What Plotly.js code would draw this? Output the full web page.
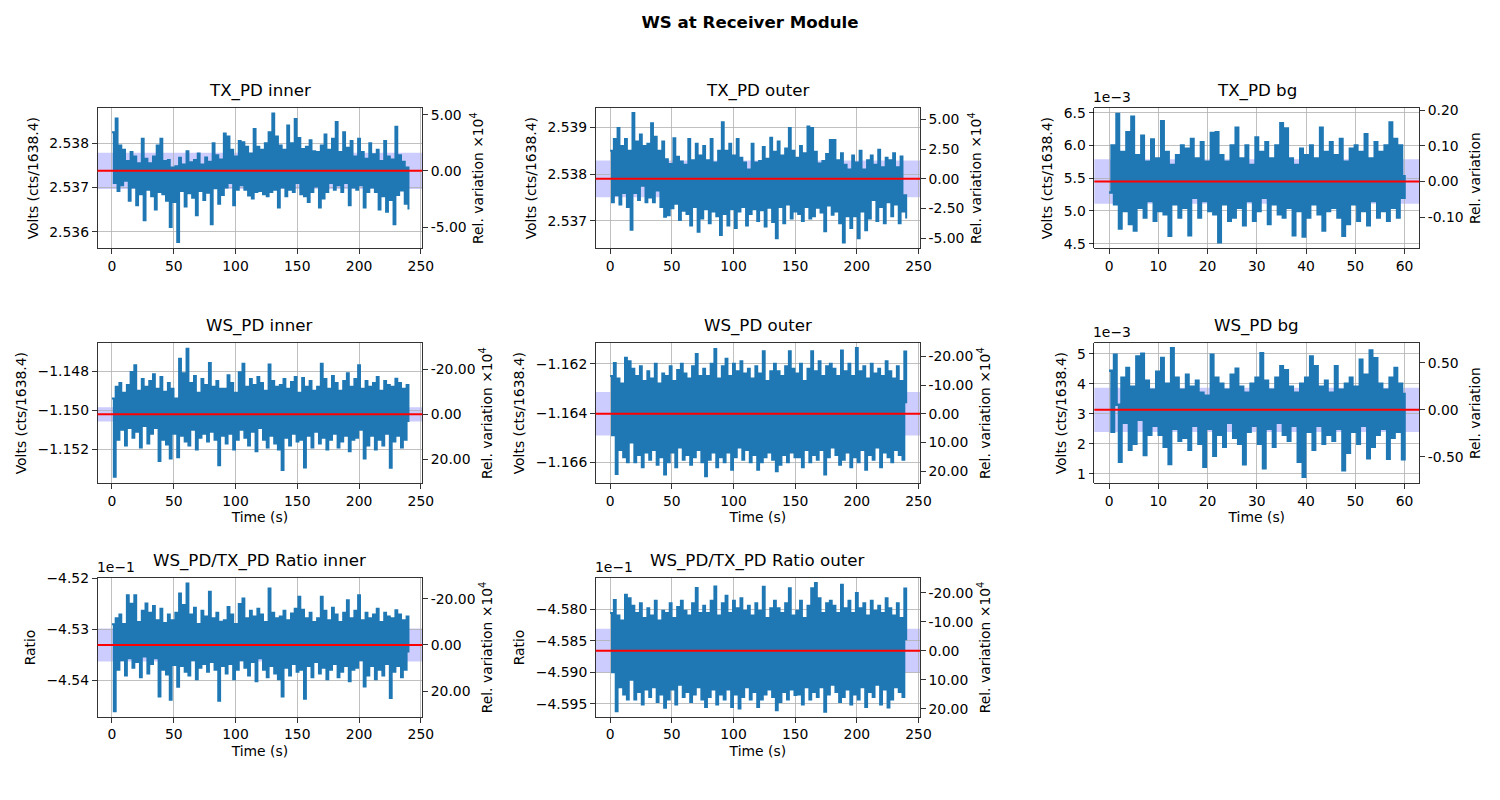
<!DOCTYPE html>
<html><head><meta charset="utf-8">
<script src="https://cdn.plot.ly/plotly-3.0.1.min.js"></script>
<style>html,body{margin:0;padding:0;background:#fff}#chart{width:1500px;height:800px}</style>
</head><body><div id="chart"></div>
<script>
// ---------------- data ----------------
const figTitle = "WS at Receiver Module";
const panelTitles = ["TX_PD inner", "TX_PD outer", "TX_PD bg", "WS_PD inner", "WS_PD outer", "WS_PD bg",
  "WS_PD/TX_PD Ratio inner", "WS_PD/TX_PD Ratio outer"];
const durations = [240, 240, 60, 240, 240, 60, 240, 240];   // seconds recorded
const means = [2.537376, 2.537900, 0.005449, -1.150204, -1.164027, 0.003128, -0.4533072, -0.4586587];
const stds = [0.0004095, 0.000393, 0.0003395, 0.000366, 0.0008815, 0.000741, 0.0003269, 0.00034655];

const txPdInner = [
2.53825,2.53710,2.53856,2.53692,2.53795,2.53705,2.53785,2.53715,2.53760,2.53670,
2.53780,2.53700,2.53770,2.53660,2.53755,2.53685,2.53810,2.53626,2.53765,2.53695,
2.53755,2.53680,2.53770,2.53650,2.53795,2.53690,2.53810,2.53685,2.53760,2.53670,
2.53762,2.53611,2.53745,2.53667,2.53748,2.53577,2.53767,2.53692,2.53752,2.53657,
2.53782,2.53687,2.53757,2.53677,2.53762,2.53637,2.53777,2.53692,2.53752,2.53672,
2.53768,2.53688,2.53758,2.53617,2.53800,2.53698,2.53773,2.53663,2.53763,2.53683,
2.53822,2.53700,2.53815,2.53710,2.53785,2.53660,2.53770,2.53695,2.53805,2.53705,
2.53802,2.53695,2.53792,2.53682,2.53777,2.53675,2.53832,2.53690,2.53792,2.53692,
2.53785,2.53685,2.53800,2.53680,2.53825,2.53690,2.53867,2.53695,2.53815,2.53655,
2.53795,2.53700,2.53785,2.53680,2.53840,2.53695,2.53800,2.53690,2.53855,2.53710,
2.53812,2.53685,2.53787,2.53680,2.53792,2.53667,2.53807,2.53690,2.53782,2.53702,
2.53780,2.53655,2.53795,2.53675,2.53820,2.53690,2.53785,2.53710,2.53810,2.53695,
2.53848,2.53705,2.53780,2.53690,2.53825,2.53710,2.53790,2.53660,2.53805,2.53700,
2.53770,2.53695,2.53810,2.53705,2.53780,2.53655,2.53765,2.53690,2.53800,2.53700,
2.53775,2.53690,2.53785,2.53650,2.53760,2.53680,2.53805,2.53645,2.53770,2.53672,
2.53763,2.53617,2.53837,2.53683,2.53773,2.53693,2.53758,2.53663,2.53745,2.53650];

const txPdOuter = [
2.53850,2.53740,2.53875,2.53755,2.53899,2.53735,2.53860,2.53760,2.53875,2.53730,
2.53850,2.53681,2.53931,2.53760,2.53870,2.53745,2.53885,2.53775,2.53860,2.53740,
2.53865,2.53750,2.53909,2.53740,2.53880,2.53765,2.53850,2.53730,2.53870,2.53709,
2.53832,2.53712,2.53822,2.53727,2.53877,2.53737,2.53837,2.53702,2.53827,2.53722,
2.53820,2.53715,2.53875,2.53690,2.53830,2.53730,2.53865,2.53677,2.53840,2.53705,
2.53860,2.53725,2.53830,2.53695,2.53875,2.53720,2.53825,2.53710,2.53850,2.53670,
2.53911,2.53715,2.53850,2.53690,2.53865,2.53725,2.53840,2.53685,2.53875,2.53720,
2.53835,2.53730,2.53825,2.53690,2.53810,2.53715,2.53865,2.53725,2.53825,2.53700,
2.53828,2.53723,2.53858,2.53688,2.53833,2.53728,2.53878,2.53698,2.53848,2.53663,
2.53870,2.53730,2.53840,2.53695,2.53855,2.53735,2.53899,2.53705,2.53850,2.53720,
2.53835,2.53715,2.53860,2.53700,2.53845,2.53730,2.53902,2.53705,2.53899,2.53710,
2.53848,2.53728,2.53823,2.53718,2.53828,2.53678,2.53843,2.53733,2.53873,2.53713,
2.53873,2.53720,2.53830,2.53695,2.53845,2.53654,2.53820,2.53710,2.53810,2.53685,
2.53840,2.53710,2.53825,2.53663,2.53850,2.53720,2.53810,2.53680,2.53830,2.53705,
2.53840,2.53745,2.53820,2.53700,2.53852,2.53730,2.53815,2.53695,2.53835,2.53740,
2.53830,2.53710,2.53845,2.53735,2.53815,2.53695,2.53838,2.53720,2.53755,2.53705];

const txPdBg = [
0.00528,0.00600,0.00510,0.00648,0.00473,0.00590,0.00500,0.00620,0.00480,0.00644,
0.00470,0.00585,0.00505,0.00615,0.00490,0.00575,0.00515,0.00609,0.00485,0.00580,
0.00500,0.00637,0.00495,0.00590,0.00462,0.00570,0.00510,0.00585,0.00490,0.00600,
0.00505,0.00595,0.00463,0.00610,0.00520,0.00580,0.00490,0.00605,0.00515,0.00575,
0.00500,0.00619,0.00495,0.00620,0.00452,0.00585,0.00510,0.00575,0.00485,0.00600,
0.00490,0.00627,0.00505,0.00580,0.00478,0.00600,0.00515,0.00570,0.00485,0.00612,
0.00500,0.00590,0.00520,0.00605,0.00480,0.00580,0.00510,0.00600,0.00495,0.00634,
0.00490,0.00626,0.00505,0.00580,0.00463,0.00570,0.00500,0.00595,0.00461,0.00585,
0.00490,0.00600,0.00510,0.00580,0.00495,0.00627,0.00470,0.00590,0.00500,0.00605,
0.00505,0.00585,0.00490,0.00610,0.00462,0.00575,0.00480,0.00595,0.00510,0.00600,
0.00485,0.00590,0.00500,0.00617,0.00478,0.00580,0.00515,0.00605,0.00490,0.00590,
0.00500,0.00600,0.00485,0.00635,0.00505,0.00610,0.00490,0.00600,0.00520,0.00555];

const wsPdInner = [
-1.14940,-1.15340,-1.14880,-1.15150,-1.14860,-1.15100,-1.14910,-1.15180,-1.14870,-1.15090,
-1.14804,-1.15140,-1.14770,-1.15110,-1.14900,-1.15190,-1.14840,-1.15080,-1.14880,-1.15170,
-1.14850,-1.15120,-1.14815,-1.15090,-1.14890,-1.15259,-1.14830,-1.15150,-1.14905,-1.15175,
-1.14860,-1.15247,-1.14890,-1.15120,-1.14940,-1.15240,-1.14736,-1.15130,-1.14810,-1.15160,
-1.14685,-1.15180,-1.14860,-1.15100,-1.14825,-1.15200,-1.14910,-1.15140,-1.14840,-1.15120,
-1.14870,-1.15160,-1.14758,-1.15110,-1.14880,-1.15150,-1.14850,-1.15281,-1.14890,-1.15130,
-1.14890,-1.15170,-1.14820,-1.15120,-1.14860,-1.15200,-1.14910,-1.15150,-1.14805,-1.15100,
-1.14762,-1.15140,-1.14880,-1.15180,-1.14840,-1.15110,-1.14870,-1.15210,-1.14830,-1.15090,
-1.14860,-1.15150,-1.14900,-1.15190,-1.14765,-1.15130,-1.14850,-1.15170,-1.14880,-1.15200,
-1.14870,-1.15306,-1.14840,-1.15140,-1.14890,-1.15180,-1.14855,-1.15120,-1.14830,-1.15160,
-1.14910,-1.15150,-1.14835,-1.15293,-1.14880,-1.15130,-1.14850,-1.15190,-1.14900,-1.15110,
-1.14880,-1.15170,-1.14762,-1.15140,-1.14840,-1.15200,-1.14890,-1.15150,-1.14825,-1.15120,
-1.14860,-1.15190,-1.14900,-1.15160,-1.14850,-1.15130,-1.14810,-1.15210,-1.14880,-1.15150,
-1.14840,-1.15140,-1.14770,-1.15100,-1.14890,-1.15247,-1.14850,-1.15180,-1.14880,-1.15130,
-1.14860,-1.15200,-1.14830,-1.15150,-1.14900,-1.15180,-1.14850,-1.15120,-1.14870,-1.15294,
-1.14880,-1.15160,-1.14838,-1.15130,-1.14860,-1.15190,-1.14890,-1.15150,-1.14870,-1.15060];

const wsPdOuter = [
-1.16250,-1.16490,-1.16197,-1.16648,-1.16260,-1.16550,-1.16280,-1.16580,-1.16176,-1.16600,
-1.16190,-1.16520,-1.16220,-1.16600,-1.16250,-1.16570,-1.16210,-1.16620,-1.16270,-1.16560,
-1.16230,-1.16590,-1.16260,-1.16550,-1.16200,-1.16610,-1.16280,-1.16580,-1.16240,-1.16650,
-1.16250,-1.16600,-1.16210,-1.16560,-1.16270,-1.16620,-1.16225,-1.16540,-1.16200,-1.16590,
-1.16240,-1.16570,-1.16260,-1.16610,-1.16210,-1.16580,-1.16160,-1.16550,-1.16250,-1.16600,
-1.16220,-1.16657,-1.16250,-1.16590,-1.16200,-1.16560,-1.16140,-1.16620,-1.16260,-1.16580,
-1.16210,-1.16600,-1.16180,-1.16560,-1.16250,-1.16630,-1.16200,-1.16580,-1.16230,-1.16540,
-1.16190,-1.16590,-1.16240,-1.16550,-1.16220,-1.16600,-1.16260,-1.16570,-1.16210,-1.16630,
-1.16240,-1.16600,-1.16149,-1.16580,-1.16270,-1.16560,-1.16230,-1.16590,-1.16200,-1.16636,
-1.16230,-1.16610,-1.16250,-1.16570,-1.16210,-1.16600,-1.16149,-1.16560,-1.16220,-1.16580,
-1.16240,-1.16580,-1.16200,-1.16620,-1.16270,-1.16550,-1.16220,-1.16600,-1.16149,-1.16570,
-1.16230,-1.16590,-1.16190,-1.16550,-1.16250,-1.16650,-1.16210,-1.16580,-1.16200,-1.16540,
-1.16220,-1.16570,-1.16250,-1.16610,-1.16146,-1.16590,-1.16230,-1.16560,-1.16200,-1.16620,
-1.16250,-1.16580,-1.16136,-1.16600,-1.16230,-1.16550,-1.16210,-1.16630,-1.16260,-1.16570,
-1.16200,-1.16590,-1.16240,-1.16540,-1.16220,-1.16620,-1.16250,-1.16560,-1.16190,-1.16580,
-1.16230,-1.16600,-1.16260,-1.16550,-1.16210,-1.16570,-1.16270,-1.16590,-1.16150,-1.16360];

const wsPdBg = [
0.00443,0.00240,0.00497,0.00330,0.00140,0.00420,0.00270,0.00452,0.00180,0.00390,
0.00200,0.00491,0.00280,0.00500,0.00162,0.00410,0.00230,0.00380,0.00260,0.00440,
0.00230,0.00486,0.00190,0.00400,0.00132,0.00518,0.00250,0.00420,0.00210,0.00380,
0.00220,0.00430,0.00180,0.00390,0.00260,0.00410,0.00200,0.00370,0.00123,0.00360,
0.00250,0.00497,0.00160,0.00420,0.00230,0.00400,0.00190,0.00380,0.00270,0.00430,
0.00220,0.00450,0.00200,0.00390,0.00131,0.00370,0.00240,0.00400,0.00260,0.00420,
0.00200,0.00502,0.00118,0.00410,0.00250,0.00380,0.00190,0.00420,0.00270,0.00458,
0.00230,0.00445,0.00210,0.00390,0.00260,0.00370,0.00140,0.00400,0.00090,0.00420,
0.00240,0.00491,0.00180,0.00458,0.00260,0.00390,0.00200,0.00410,0.00230,0.00370,
0.00210,0.00458,0.00250,0.00380,0.00111,0.00400,0.00170,0.00420,0.00240,0.00390,
0.00200,0.00480,0.00260,0.00430,0.00151,0.00511,0.00190,0.00485,0.00230,0.00400,
0.00250,0.00380,0.00150,0.00420,0.00220,0.00452,0.00240,0.00400,0.00148,0.00370];

const ratioInner = [
-0.452900,-0.454614,-0.452782,-0.453794,-0.452707,-0.453607,-0.452895,-0.453907,-0.452327,-0.453569,
-0.452497,-0.453757,-0.452327,-0.453644,-0.452857,-0.453944,-0.452632,-0.453532,-0.452490,-0.453869,
-0.452670,-0.453682,-0.452538,-0.453569,-0.452820,-0.454320,-0.452595,-0.453794,-0.452876,-0.453888,
-0.452707,-0.454386,-0.452820,-0.453700,-0.452670,-0.454132,-0.452294,-0.453719,-0.452520,-0.453832,
-0.452098,-0.453907,-0.452707,-0.453607,-0.452576,-0.453982,-0.452895,-0.453757,-0.452632,-0.453682,
-0.452745,-0.453832,-0.452261,-0.453644,-0.452782,-0.453794,-0.452670,-0.454405,-0.452850,-0.453719,
-0.452820,-0.453869,-0.452557,-0.453682,-0.452707,-0.453982,-0.452895,-0.453794,-0.452501,-0.453607,
-0.452392,-0.453757,-0.452782,-0.453907,-0.452632,-0.453644,-0.452745,-0.454019,-0.452595,-0.453569,
-0.452707,-0.453794,-0.452857,-0.453944,-0.452196,-0.453719,-0.452670,-0.453869,-0.452782,-0.453982,
-0.452745,-0.454320,-0.452632,-0.453757,-0.452820,-0.453907,-0.452688,-0.453682,-0.452595,-0.453832,
-0.452359,-0.453794,-0.452613,-0.454366,-0.452782,-0.453719,-0.452670,-0.453944,-0.452857,-0.453644,
-0.452782,-0.453869,-0.452359,-0.453757,-0.452632,-0.453982,-0.452820,-0.453794,-0.452576,-0.453682,
-0.452707,-0.453944,-0.452857,-0.453832,-0.452670,-0.453719,-0.452425,-0.454019,-0.452782,-0.453794,
-0.452632,-0.453757,-0.452327,-0.453607,-0.452820,-0.454124,-0.452670,-0.453907,-0.452782,-0.453719,
-0.452707,-0.453982,-0.452595,-0.453794,-0.452857,-0.453907,-0.452670,-0.453682,-0.452745,-0.454353,
-0.452782,-0.453832,-0.452625,-0.453719,-0.452707,-0.453944,-0.452820,-0.453794,-0.452745,-0.453457];

const ratioOuter = [
-0.458065,-0.459001,-0.457858,-0.459617,-0.458104,-0.459235,-0.458182,-0.459352,-0.457776,-0.459430,
-0.457831,-0.459118,-0.457948,-0.459430,-0.458065,-0.459313,-0.457909,-0.459508,-0.458143,-0.459274,
-0.457987,-0.459391,-0.458104,-0.459235,-0.457870,-0.459469,-0.458182,-0.459352,-0.458026,-0.459560,
-0.458065,-0.459430,-0.457909,-0.459274,-0.458143,-0.459508,-0.457967,-0.459196,-0.457870,-0.459391,
-0.458026,-0.459313,-0.458104,-0.459469,-0.457909,-0.459352,-0.457669,-0.459235,-0.458065,-0.459430,
-0.457948,-0.459550,-0.458065,-0.459391,-0.457870,-0.459274,-0.457643,-0.459508,-0.458104,-0.459352,
-0.457909,-0.459430,-0.457792,-0.459274,-0.458065,-0.459547,-0.457870,-0.459352,-0.457987,-0.459574,
-0.457831,-0.459391,-0.458026,-0.459235,-0.457948,-0.459430,-0.458104,-0.459313,-0.457909,-0.459547,
-0.458026,-0.459430,-0.457650,-0.459352,-0.458143,-0.459274,-0.457987,-0.459391,-0.457870,-0.459600,
-0.457987,-0.459469,-0.458065,-0.459313,-0.457909,-0.459430,-0.457671,-0.459274,-0.458104,-0.459360,
-0.458026,-0.459352,-0.457870,-0.459508,-0.458143,-0.459235,-0.457948,-0.459430,-0.457671,-0.459313,
-0.457590,-0.459391,-0.457831,-0.459235,-0.458065,-0.459625,-0.457909,-0.459352,-0.457870,-0.459196,
-0.457948,-0.459313,-0.458065,-0.459469,-0.457616,-0.459391,-0.457987,-0.459274,-0.457870,-0.459508,
-0.458065,-0.459352,-0.457749,-0.459430,-0.457987,-0.459235,-0.457909,-0.459547,-0.458104,-0.459313,
-0.457870,-0.459391,-0.458026,-0.459196,-0.457948,-0.459508,-0.458065,-0.459274,-0.457831,-0.459558,
-0.457987,-0.459430,-0.458104,-0.459235,-0.457909,-0.459313,-0.458143,-0.459391,-0.457675,-0.458494];

const seriesList = [txPdInner, txPdOuter, txPdBg, wsPdInner, wsPdOuter, wsPdBg, ratioInner, ratioOuter];

// axis ticks / labels
const leftTickVals = [
  [2.536, 2.537, 2.538], [2.537, 2.538, 2.539], [0.0045, 0.005, 0.0055, 0.006, 0.0065],
  [-1.152, -1.150, -1.148], [-1.166, -1.164, -1.162], [0.001, 0.002, 0.003, 0.004, 0.005],
  [-0.454, -0.453, -0.452], [-0.4595, -0.459, -0.4585, -0.458, -0.4575]];
const leftTickText = [
  ["2.536", "2.537", "2.538"], ["2.537", "2.538", "2.539"], ["4.5", "5.0", "5.5", "6.0", "6.5"],
  ["\u22121.152", "\u22121.150", "\u22121.148"], ["\u22121.166", "\u22121.164", "\u22121.162"], ["1", "2", "3", "4", "5"],
  ["\u22124.54", "\u22124.53", "\u22124.52"], ["\u22124.595", "\u22124.590", "\u22124.585", "\u22124.580", "\u22124.575"]];
const offsetTexts = [null, null, "1e\u22123", null, null, "1e\u22123", "1e\u22121", "1e\u22121"];
const rightTickVals = [[-5, 0, 5], [-5, -2.5, 0, 2.5, 5], [-0.1, 0, 0.1, 0.2], [-20, 0, 20],
  [-20, -10, 0, 10, 20], [-0.5, 0, 0.5], [-20, 0, 20], [-20, -10, 0, 10, 20]];
const relScale = [1e4, 1e4, 1, 1e4, 1e4, 1, 1e4, 1e4];
const yLabels = ["Volts (cts/1638.4)", "Volts (cts/1638.4)", "Volts (cts/1638.4)", "Volts (cts/1638.4)",
  "Volts (cts/1638.4)", "Volts (cts/1638.4)", "Ratio", "Ratio"];
const rightLabels = ["Rel. variation \u00d710<sup>4</sup>", "Rel. variation \u00d710<sup>4</sup>", "Rel. variation",
  "Rel. variation \u00d710<sup>4</sup>", "Rel. variation \u00d710<sup>4</sup>", "Rel. variation",
  "Rel. variation \u00d710<sup>4</sup>", "Rel. variation \u00d710<sup>4</sup>"];
const xLabels = [null, null, null, "Time (s)", "Time (s)", "Time (s)", "Time (s)", "Time (s)"];
const yRanges = [[2.535626, 2.538796], [2.536415, 2.539415], [0.004429, 0.006572], [-1.153735, -1.146555],
  [-1.166853, -1.161158], [0.000678, 0.005358], [-0.4547255, -0.451988], [-0.4597068, -0.45751]];

// ---------------- layout ----------------
const W = 1500, H = 800;
const colPx = [[97.5, 422.3], [595.7, 920], [1094.3, 1419.3]];
const rowPx = [[108, 248.3], [343, 483.3], [578, 717]];
const FONT = "DejaVu Sans";
const xd = c => [colPx[c][0] / W, colPx[c][1] / W];
const yd = r => [1 - rowPx[r][1] / H, 1 - rowPx[r][0] / H];

const traces = [];
const layout = {
  width: W, height: H, margin: {l: 0, r: 0, t: 0, b: 0},
  paper_bgcolor: "#fff", plot_bgcolor: "#fff", showlegend: false,
  font: {family: FONT, size: 13.9, color: "#000"},
  title: {text: "<b>" + figTitle + "</b>", font: {family: FONT, size: 16.67, color: "#000"},
    x: 0.5, xanchor: "center", y: 1 - 22 / H, yanchor: "middle"},
  shapes: [], annotations: []
};

const axFont = {family: FONT, size: 13.9, color: "#000"};

seriesList.forEach((ys, i) => {
  const n = i + 1, r = Math.floor(i / 3), c = i % 3;
  const xk = n === 1 ? "xaxis" : "xaxis" + n;
  const yk = n === 1 ? "yaxis" : "yaxis" + n;
  const xr = n === 1 ? "x" : "x" + n;
  const yr = n === 1 ? "y" : "y" + n;
  const ry = "y" + (n + 8);
  const dur = durations[i];
  const xRange = dur === 60 ? [-3, 63] : [-11.7, 251.2];
  const m = means[i], s = stds[i];
  const rel = v => (v - m) / m * relScale[i];

  traces.push({type: "scatter", mode: "lines", x0: 0, dx: dur / (ys.length - 1), y: ys,
    xaxis: xr, yaxis: yr, line: {color: "#1f77b4", width: dur === 60 ? 2.5 : 2, shape: "hv"},
    hoverinfo: "skip"});
  traces.push({type: "scatter", mode: "lines", x: [null], y: [null], xaxis: xr, yaxis: ry,
    hoverinfo: "skip", showlegend: false});

  const xa = {domain: xd(c), anchor: yr, range: xRange, dtick: dur === 60 ? 10 : 50, tick0: 0,
    showgrid: true, gridcolor: "#b0b0b0", gridwidth: 0.8, zeroline: false,
    showline: true, mirror: true, linecolor: "#000", linewidth: 0.8,
    ticks: "outside", ticklen: 4.9, tickwidth: 0.8, tickcolor: "#000", tickfont: axFont};
  if (xLabels[i]) xa.title = {text: xLabels[i], font: axFont, standoff: 4};
  layout[xk] = xa;
  layout[yk] = {domain: yd(r), anchor: xr, range: yRanges[i],
    tickmode: "array", tickvals: leftTickVals[i], ticktext: leftTickText[i],
    showgrid: true, gridcolor: "#b0b0b0", gridwidth: 0.8, zeroline: false,
    showline: true, linecolor: "#000", linewidth: 0.8,
    ticks: "outside", ticklen: 4.9, tickwidth: 0.8, tickcolor: "#000", tickfont: axFont,
    title: {text: yLabels[i], font: axFont, standoff: 7}};
  layout["yaxis" + (n + 8)] = {overlaying: yr, side: "right", anchor: xr,
    range: [rel(yRanges[i][0]), rel(yRanges[i][1])],
    tickmode: "array", tickvals: rightTickVals[i], ticktext: rightTickVals[i].map(v => v.toFixed(2)),
    showgrid: false, zeroline: false, showline: true, linecolor: "#000", linewidth: 0.8,
    ticks: "outside", ticklen: 4.9, tickwidth: 0.8, tickcolor: "#000", tickfont: axFont,
    title: {text: rightLabels[i], font: axFont, standoff: 7}};

  layout.shapes.push({type: "rect", xref: xr + " domain", yref: yr, x0: 0, x1: 1, y0: m - s, y1: m + s,
    fillcolor: "rgba(0,0,255,0.2)", line: {width: 0}, layer: "below"});
  layout.shapes.push({type: "line", xref: xr + " domain", yref: yr, x0: 0, x1: 1, y0: m, y1: m,
    line: {color: "#ff0000", width: 2}, layer: "above"});

  const cx = (colPx[c][0] + colPx[c][1]) / 2 / W;
  layout.annotations.push({text: panelTitles[i], xref: "paper", yref: "paper", x: cx,
    y: 1 - (rowPx[r][0] - 5) / H, xanchor: "center", yanchor: "bottom", showarrow: false,
    font: {family: FONT, size: 16.67, color: "#000"}});
  if (offsetTexts[i]) {
    layout.annotations.push({text: offsetTexts[i], xref: "paper", yref: "paper", x: colPx[c][0] / W,
      y: 1 - (rowPx[r][0] - 1) / H, xanchor: "left", yanchor: "bottom", showarrow: false,
      font: axFont, xshift: -3});
  }
});

Plotly.newPlot("chart", traces, layout, {displayModeBar: false, staticPlot: true});
</script>
</body></html>
